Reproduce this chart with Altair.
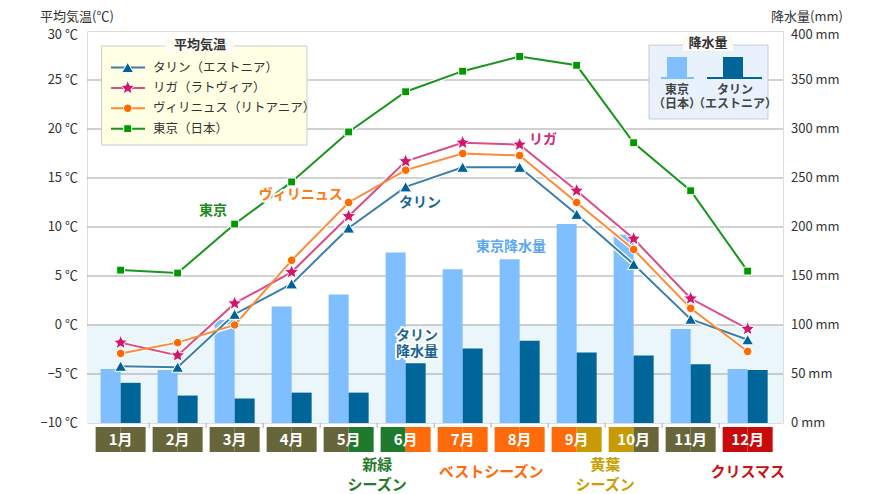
import altair as alt
import pandas as pd

# ---------------- data ----------------
month_nums = [1, 2, 3, 4, 5, 6, 7, 8, 9, 10, 11, 12]
month_labels = ["1月", "2月", "3月", "4月", "5月", "6月", "7月", "8月", "9月", "10月", "11月", "12月"]

temp_series = ["タリン", "リガ", "ヴィリニュス", "東京"]
temp_legend_labels = ["タリン（エストニア）", "リガ（ラトヴィア）", "ヴィリニュス（リトアニア）", "東京（日本）"]
tallinn_temp = [-4.2, -4.3, 1.1, 4.2, 9.9, 14.1, 16.1, 16.1, 11.3, 6.2, 0.6, -1.5]
riga_temp = [-1.8, -3.1, 2.2, 5.4, 11.1, 16.7, 18.6, 18.4, 13.7, 8.8, 2.7, -0.4]
vilnius_temp = [-2.9, -1.8, 0.0, 6.6, 12.5, 15.8, 17.5, 17.3, 12.5, 7.7, 1.7, -2.7]
tokyo_temp = [5.6, 5.3, 10.3, 14.6, 19.7, 23.8, 25.9, 27.4, 26.5, 18.6, 13.7, 5.5]

tokyo_precip = [55, 54, 105, 119, 131, 174, 157, 167, 203, 192, 96, 55]
tallinn_precip = [41, 28, 25, 31, 31, 61, 76, 84, 72, 69, 60, 54]

temp_ticks = [-10, -5, 0, 5, 10, 15, 20, 25, 30]
precip_ticks = [0, 50, 100, 150, 200, 250, 300, 350, 400]

OLIVE, GREEN, ORANGE, GOLD, RED = "#67663a", "#1f7a2e", "#ff6a0a", "#c99a06", "#c80a0a"
box_left_colors = [OLIVE, OLIVE, OLIVE, OLIVE, OLIVE, GREEN, ORANGE, ORANGE, ORANGE, GOLD, OLIVE, RED]
box_right_colors = [OLIVE, OLIVE, OLIVE, OLIVE, GREEN, ORANGE, ORANGE, ORANGE, GOLD, OLIVE, OLIVE, RED]

season_labels = [["新緑", "シーズン"], ["ベストシーズン"], ["黄葉", "シーズン"], ["クリスマス"]]
season_month = [5.5, 7.5, 9.5, 12]
season_colors = ["#267a2a", "#ff6a0a", "#c9a000", "#cc1111"]

# ---------------- styles ----------------
FONT = "Noto Sans CJK JP"
TXT = "#333333"
line_colors = ["#3a7fae", "#dc4a88", "#ff8a36", "#17961b"]
marker_colors = ["#00629a", "#d2166c", "#ff6a00", "#009900"]
STAR = ("M0,-1L0.2645,-0.364L0.951,-0.309L0.428,0.139L0.588,0.809L0,0.45"
        "L-0.588,0.809L-0.428,0.139L-0.951,-0.309L-0.2645,-0.364Z")
shapes = ["triangle-up", STAR, "circle", "square"]
sizes = [140, 230, 72, 62]

xs = alt.Scale(domain=[0.41, 12.62], nice=False, zero=False)
ts = alt.Scale(domain=[-10, 30], nice=False, zero=False)
ps = alt.Scale(domain=[0, 400], nice=False, zero=True)
stroke_scale = alt.Scale(domain=temp_series, range=line_colors)

# ---------------- tables ----------------
temp_df = pd.DataFrame({
    "m": month_nums * 4,
    "s": sum([[s] * 12 for s in temp_series], []),
    "t": tallinn_temp + riga_temp + vilnius_temp + tokyo_temp,
})
precip_df = pd.DataFrame({"m": month_nums, "tokyo": tokyo_precip, "tallinn": tallinn_precip})
box_df = pd.DataFrame({"m": month_nums, "label": month_labels,
                       "lc": box_left_colors, "rc": box_right_colors})
one = pd.DataFrame({"k": [0]})

BAR_W = 0.351   # width of one bar in month units
BOX_H = 0.4386  # half width of month label box

X = lambda f: alt.X(f, scale=xs, axis=None)
YT = lambda f: alt.Y(f, scale=ts, axis=None)
YP = lambda f: alt.Y(f, scale=ps, axis=None)

# ---------------- precipitation group ----------------
bg_blue = alt.Chart(pd.DataFrame({"lo": [precip_ticks[0]], "hi": [precip_ticks[2]]})).mark_rect(
    color="#eaf6f9").encode(x=alt.value(0), x2=alt.value("width"), y=YP("lo:Q"), y2="hi:Q")

grid = alt.Chart(pd.DataFrame({"v": precip_ticks[1:-1]})).mark_rule(
    color="#a3a3a3", strokeWidth=1).encode(x=alt.value(0), x2=alt.value("width"), y=YP("v:Q"))

bars_tokyo = alt.Chart(precip_df).transform_calculate(
    bx0=f"datum.m - {BAR_W}", bx1="datum.m", z="0").mark_rect(color="#80bfff").encode(
    x=X("bx0:Q"), x2="bx1:Q", y=YP("tokyo:Q"), y2="z:Q")

bars_tallinn = alt.Chart(precip_df).transform_calculate(
    bx0="datum.m", bx1=f"datum.m + {BAR_W}", z="0").mark_rect(color="#006699").encode(
    x=X("bx0:Q"), x2="bx1:Q", y=YP("tallinn:Q"), y2="z:Q")


def tick_labels(ticks, scale_fn, suffix, xpix, align):
    base = alt.Chart(pd.DataFrame({"v": ticks})).transform_calculate(
        lab=f"format(datum.v, 'd') + '{suffix}'")
    body = base.transform_filter(f"datum.v < {ticks[-1]}").mark_text(
        align=align, baseline="middle", font=FONT, fontSize=13, color=TXT).encode(
        x=alt.value(xpix), y=scale_fn("v:Q"), text="lab:N")
    top = base.transform_filter(f"datum.v == {ticks[-1]}").mark_text(
        align=align, baseline="middle", font=FONT, fontSize=13, color=TXT, dy=4).encode(
        x=alt.value(xpix), y=scale_fn("v:Q"), text="lab:N")
    return [body, top]


right_labels = tick_labels(precip_ticks, YP, " mm", 704, "left")
right_title = alt.Chart(one).mark_text(text="降水量(mm)", align="left", baseline="middle",
                                       font=FONT, fontSize=13, color=TXT).encode(
    x=alt.value(684), y=alt.value(-14.5))

precip_group = alt.layer(bg_blue, grid, bars_tokyo, bars_tallinn, *right_labels, right_title)

# ---------------- temperature group ----------------
left_labels = tick_labels(temp_ticks, YT, " ℃", -9, "right")
left_title = alt.Chart(one).mark_text(text="平均気温(℃)", align="left", baseline="middle",
                                      font=FONT, fontSize=13, color=TXT).encode(
    x=alt.value(-47), y=alt.value(-14.5))

x_ticks = alt.Chart(pd.DataFrame({"b": [m + 0.5 for m in month_nums[:-1]]})).mark_rule(
    color="#aaaaaa").encode(x=X("b:Q"), y=alt.value(392), y2=alt.value(397))

halo = alt.Chart(temp_df).mark_line(color="white", strokeWidth=4.5).encode(
    x=X("m:Q"), y=YT("t:Q"), detail="s:N")

lines = alt.Chart(temp_df).mark_line(strokeWidth=2).encode(
    x=X("m:Q"), y=YT("t:Q"), stroke=alt.Stroke("s:N", scale=stroke_scale, legend=None))

point_layers = []
for s, shp, sz, col in zip(temp_series, shapes, sizes, marker_colors):
    point_layers.append(
        alt.Chart(temp_df).transform_filter(alt.datum.s == s).mark_point(
            shape=shp, size=sz, filled=True, fill=col, stroke="white", strokeWidth=1,
            opacity=1, fillOpacity=1).encode(x=X("m:Q"), y=YT("t:Q")))


def annot(text, mx, ty, color):
    base = alt.Chart(pd.DataFrame({"x": [mx], "y": [ty]}))
    enc = dict(x=X("x:Q"), y=YT("y:Q"))
    h = base.mark_text(text=text, font=FONT, fontSize=14, fontWeight="bold", lineHeight=16,
                       stroke="white", strokeWidth=4, strokeJoin="round", fill="white").encode(**enc)
    t = base.mark_text(text=text, font=FONT, fontSize=14, fontWeight="bold", lineHeight=16,
                       fill=color).encode(**enc)
    return [h, t]


annots = []
annots += annot("東京", 2.62, 11.6, "#1f8a1f")
annots += annot("ヴィリニュス", 4.16, 13.3, "#ff7a10")
annots += annot("タリン", 6.25, 12.4, "#1a6496")
annots += annot("リガ", 8.41, 18.9, "#d42a78")
annots += annot("東京降水量", 7.85, 8.0, "#5aa9f0")
annots += annot(["タリン", "降水量"], 6.2, -1.12, "#1a6496")

# legend: average temperature
leg1 = [
    alt.Chart(one).mark_rect(fill="#ffffe3", stroke="#cccccc", strokeWidth=1).encode(
        x=alt.value(14.5), x2=alt.value(220), y=alt.value(15), y2=alt.value(114)),
    alt.Chart(one).mark_rect(fill="#fcfbf6").encode(
        x=alt.value(78), x2=alt.value(147), y=alt.value(7), y2=alt.value(22)),
    alt.Chart(one).mark_text(text="平均気温", font=FONT, fontSize=13, fontWeight="bold",
                             color=TXT).encode(x=alt.value(113), y=alt.value(14)),
]
for i, (s, lab, shp, sz, lc, mc) in enumerate(zip(temp_series, temp_legend_labels, shapes,
                                                   sizes, line_colors, marker_colors)):
    ly = 36.5 + 20.4 * i
    leg1.append(alt.Chart(one).mark_rule(stroke=lc, strokeWidth=2).encode(
        x=alt.value(24), x2=alt.value(58), y=alt.value(ly)))
    leg1.append(alt.Chart(one).mark_point(shape=shp, size=sz, filled=True, fill=mc,
                                          stroke="white", strokeWidth=1, opacity=1).encode(
        x=alt.value(40.7), y=alt.value(ly)))
    leg1.append(alt.Chart(one).mark_text(text=lab, align="left", baseline="middle", font=FONT,
                                         fontSize=12.5, color=TXT).encode(
        x=alt.value(66), y=alt.value(ly)))

# legend: precipitation
leg2 = [
    alt.Chart(one).mark_rect(fill="#e8f1fc", stroke="#cccccc", strokeWidth=1).encode(
        x=alt.value(562), x2=alt.value(681), y=alt.value(14), y2=alt.value(88)),
    alt.Chart(one).mark_rect(fill="#fcfbf6").encode(
        x=alt.value(596), x2=alt.value(646), y=alt.value(5), y2=alt.value(20)),
    alt.Chart(one).mark_text(text="降水量", font=FONT, fontSize=13, fontWeight="bold",
                             color=TXT).encode(x=alt.value(621), y=alt.value(12)),
    alt.Chart(one).mark_rect(fill="#80bfff").encode(
        x=alt.value(580), x2=alt.value(600), y=alt.value(26), y2=alt.value(47)),
    alt.Chart(one).mark_rule(stroke="#80bfff", strokeWidth=2).encode(
        x=alt.value(574), x2=alt.value(607), y=alt.value(47)),
    alt.Chart(one).mark_rect(fill="#006699").encode(
        x=alt.value(636), x2=alt.value(656), y=alt.value(26), y2=alt.value(47)),
    alt.Chart(one).mark_rule(stroke="#006699", strokeWidth=2).encode(
        x=alt.value(620), x2=alt.value(675), y=alt.value(47)),
    alt.Chart(one).mark_text(text=["東京", "（日本）"], font=FONT, fontSize=12, lineHeight=14,
                             fontWeight="bold", color="#444444").encode(
        x=alt.value(590), y=alt.value(59)),
    alt.Chart(one).mark_text(text=["タリン", "（エストニア）"], font=FONT, fontSize=12,
                             lineHeight=14, fontWeight="bold", color="#444444").encode(
        x=alt.value(648), y=alt.value(59)),
]

# month label boxes
box_l = alt.Chart(box_df).transform_calculate(
    lx0=f"datum.m - {BOX_H}", lx1="datum.m").mark_rect().encode(
    x=X("lx0:Q"), x2="lx1:Q", y=alt.value(396), y2=alt.value(421),
    color=alt.Color("lc:N", scale=None, legend=None))
box_r = alt.Chart(box_df).transform_calculate(
    rx0="datum.m", rx1=f"datum.m + {BOX_H}").mark_rect().encode(
    x=X("rx0:Q"), x2="rx1:Q", y=alt.value(396), y2=alt.value(421),
    color=alt.Color("rc:N", scale=None, legend=None))
box_t = alt.Chart(box_df).mark_text(font=FONT, fontSize=15, fontWeight="bold",
                                    color="white").encode(
    x=X("m:Q"), y=alt.value(409), text="label:N")

seasons = []
for lab, mpos, col in zip(season_labels, season_month, season_colors):
    seasons.append(
        alt.Chart(pd.DataFrame({"x": [mpos]})).mark_text(
            text=lab, font=FONT, fontSize=15, fontWeight="bold", lineHeight=20,
            color=col).encode(x=X("x:Q"), y=alt.value(434 if len(lab) > 1 else 441)))

temp_group = alt.layer(
    *left_labels, left_title, x_ticks, halo, lines, *point_layers, *annots,
    *leg1, *leg2, box_l, box_r, box_t, *seasons)

chart = alt.layer(precip_group, temp_group).resolve_scale(y="independent").properties(
    width=696, height=392,
    padding={"left": 79, "top": 23, "right": 89, "bottom": 74},
    autosize=alt.AutoSizeParams(type="none"),
).configure_view(stroke="#999999", fill="#fcfbf6").configure(font=FONT)

chart.save("out.html", embed_options={"renderer": "svg", "actions": False})
